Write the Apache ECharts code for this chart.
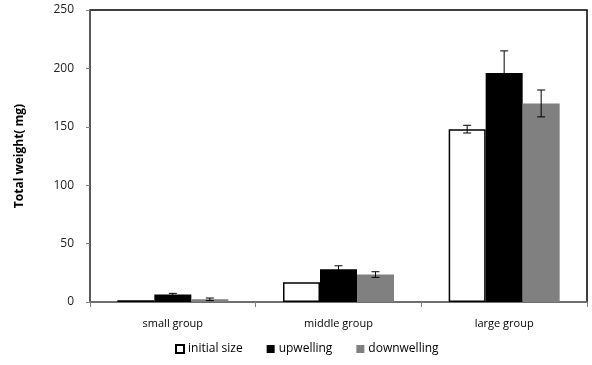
<!DOCTYPE html>
<html><head><meta charset="utf-8">
<script src="https://cdn.jsdelivr.net/npm/echarts@6/dist/echarts.min.js"></script>
<style>html,body{margin:0;padding:0;background:#fff}#c{width:592px;height:365px}</style>
</head><body><div id="c"></div>
<script>
const categories = ['small group', 'middle group', 'large group'];
const seriesNames = ['initial size', 'upwelling', 'downwelling'];
const initialSize = [1.5, 17, 148];
const initialErr = [0, 0, 3.3];
const upwelling = [6.5, 28, 196];
const upwellingErr = [0.9, 3, 19];
const downwelling = [2.3, 23.5, 170];
const downwellingErr = [1.1, 2.4, 11.5];
const yTicks = [0, 50, 100, 150, 200, 250];

const values = [initialSize, upwelling, downwelling];
const errs = [initialErr, upwellingErr, downwellingErr];
const colors = ['#ffffff', '#000000', '#808080'];
const gapPct = 0.33;
const font = "'Open Sans', 'Liberation Sans', sans-serif";

const chart = echarts.init(document.getElementById('c'));
const errData = [];
for (let s = 0; s < 3; s++) for (let i = 0; i < categories.length; i++) {
  if (errs[s][i] > 0) errData.push([i, values[s][i], errs[s][i], s]);
}
const barSeries = seriesNames.map((n, s) => ({
  name: n, type: 'bar', data: values[s], barGap: '0%', barCategoryGap: '33%',
  itemStyle: { color: colors[s], borderColor: s === 0 ? '#000' : colors[s], borderWidth: s === 0 ? 1.5 : 0 },
  emphasis: { disabled: true }, animation: false
}));
chart.setOption({
  animation: false,
  grid: { left: 90, right: 5, top: 10, bottom: 63, show: true, borderColor: '#000', borderWidth: 1.5, backgroundColor: 'transparent' },
  legend: {
    bottom: 5, left: 170, icon: 'rect', itemWidth: 8, itemHeight: 8, itemGap: 24,
    data: seriesNames,
    textStyle: { fontFamily: font, fontSize: 12, color: '#000', padding: [0, 0, 0, -1] }
  },
  xAxis: {
    type: 'category', data: categories,
    axisLine: { lineStyle: { color: '#808080', width: 1.5 } },
    axisTick: { show: true, length: 5, lineStyle: { color: '#808080' } },
    axisLabel: { fontFamily: font, fontSize: 11, color: '#000', margin: 16 }
  },
  yAxis: {
    type: 'value', min: 0, max: 250, interval: 50,
    name: 'Total weight( mg)', nameLocation: 'middle', nameGap: 64, nameRotate: 90,
    nameTextStyle: { fontFamily: font, fontSize: 12, fontWeight: 'bold', color: '#000' },
    splitLine: { show: false },
    axisLine: { show: true, lineStyle: { color: '#606060', width: 1.5 } },
    axisTick: { show: true, length: 4, lineStyle: { color: '#808080' } },
    axisLabel: { fontFamily: font, fontSize: 12, color: '#222', margin: 16, formatter: v => yTicks.includes(v) ? String(v) : '' }
  },
  series: barSeries.concat([{
    type: 'custom', data: errData, z: 10,
    renderItem: function (params, api) {
      const i = api.value(0), v = api.value(1), e = api.value(2), s = api.value(3);
      const band = api.size([1, 0])[0];
      const bw = band * (1 - gapPct) / 3;
      const c = api.coord([i, v]);
      const x = c[0] + (s - 1) * bw;
      const yt = api.coord([i, v + e])[1];
      const yb = api.coord([i, v - e])[1];
      const cap = 4;
      const st = { stroke: '#000', lineWidth: 1 };
      return { type: 'group', children: [
        { type: 'line', shape: { x1: x, y1: yt, x2: x, y2: yb }, style: st },
        { type: 'line', shape: { x1: x - cap, y1: yt, x2: x + cap, y2: yt }, style: st },
        { type: 'line', shape: { x1: x - cap, y1: yb, x2: x + cap, y2: yb }, style: st }
      ]};
    }
  }])
});
</script></body></html>
